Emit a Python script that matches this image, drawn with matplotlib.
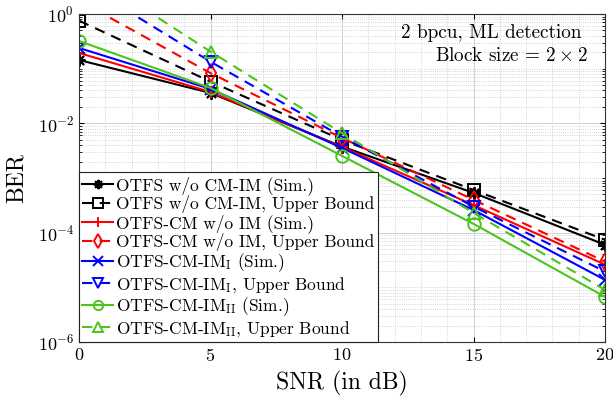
import numpy as np
import matplotlib
matplotlib.use('Agg')
import matplotlib.pyplot as plt
from matplotlib.ticker import MultipleLocator, LogLocator, NullFormatter

plt.rcParams['font.family'] = 'serif'
plt.rcParams['font.serif'] = ['cmr10']
plt.rcParams['mathtext.fontset'] = 'cm'
plt.rcParams['axes.formatter.use_mathtext'] = True

# SNR points (dB)
snr = [0, 5, 10, 15, 20]

# BER values
ber_otfs_sim = [0.144, 0.036, 3.75e-3, 5.35e-4, 6.0e-5]
ber_otfs_ub = [0.755, 0.058, 4.97e-3, 6.05e-4, 7.4e-5]
ber_cm_sim = [0.194, 0.0375, 3.7e-3, 3.2e-4, 2.6e-5]
ber_cm_ub = [1.75, 0.083, 5.4e-3, 4.0e-4, 2.96e-5]
ber_im1_sim = [0.239, 0.0426, 3.55e-3, 2.6e-4, 1.37e-5]
ber_im1_ub = [4.0, 0.134, 5.7e-3, 3.0e-4, 1.95e-5]
ber_im2_sim = [0.321, 0.0444, 2.54e-3, 1.45e-4, 6.7e-6]
ber_im2_ub = [7.3, 0.205, 6.6e-3, 2.3e-4, 9.0e-6]

labels = [
    'OTFS w/o CM-IM (Sim.)',
    'OTFS w/o CM-IM, Upper Bound',
    'OTFS-CM w/o IM (Sim.)',
    'OTFS-CM w/o IM, Upper Bound',
    r'OTFS-CM-IM$_{\rm I}$ (Sim.)',
    r'OTFS-CM-IM$_{\rm I}$, Upper Bound',
    r'OTFS-CM-IM$_{\rm II}$ (Sim.)',
    r'OTFS-CM-IM$_{\rm II}$, Upper Bound',
]

green = '#4dc41e'
series = [
    (ber_otfs_sim, 'k', '-', (8, 2, 0)),
    (ber_otfs_ub, 'k', '--', 's'),
    (ber_cm_sim, 'r', '-', '+'),
    (ber_cm_ub, 'r', '--', 'd'),
    (ber_im1_sim, 'b', '-', 'x'),
    (ber_im1_ub, 'b', '--', 'v'),
    (ber_im2_sim, green, '-', 'o'),
    (ber_im2_ub, green, '--', '^'),
]

fig = plt.figure(figsize=(6.13, 3.98), dpi=100)
# axes box: x 79..605 px, y 14..342 px
ax = fig.add_axes([79/613, 56/398, 526/613, 328/398])

for (vals, c, ls, m), lab in zip(series, labels):
    ax.semilogy(snr, vals, color=c, linestyle=ls, marker=m, markersize=9,
                markerfacecolor='none', markeredgewidth=1.4, linewidth=1.5,
                label=lab, dashes=(5, 3.5) if ls == '--' else (None, None))

ax.set_xlim(0, 20)
ax.set_ylim(1e-6, 1)
ax.set_xticks([0, 5, 10, 15, 20])
ax.xaxis.set_minor_locator(MultipleLocator(1))
ax.set_yticks([1e-6, 1e-4, 1e-2, 1])
ax.yaxis.set_minor_locator(LogLocator(base=10, subs=np.arange(1, 10), numticks=20))
ax.yaxis.set_minor_formatter(NullFormatter())
ax.grid(True, which='major', color='#d0d0d0', linewidth=0.7)
ax.grid(True, which='minor', color='#c8c8c8', linestyle=':', linewidth=0.6)
ax.tick_params(which='both', direction='in', top=True, right=True, labelsize=13)
ax.tick_params(axis='x', which='minor', length=0)
for s in ax.spines.values():
    s.set_color('#333333')

ax.set_xlabel('SNR (in dB)', fontsize=17, labelpad=5)
ax.set_ylabel('BER', fontsize=17, labelpad=7)

ax.text(0.956, 0.942, '2 bpcu, ML detection', transform=ax.transAxes,
        ha='right', va='center', fontsize=13.8)
ax.text(0.968, 0.872, r'Block size = $2\times 2$', transform=ax.transAxes,
        ha='right', va='center', fontsize=13.8)

leg = ax.legend(loc='lower left', bbox_to_anchor=(0.0, 0.0), borderaxespad=0,
                fontsize=12.5, fancybox=False, edgecolor='#222222', framealpha=1,
                handlelength=1.75, handletextpad=0.2, labelspacing=0.03,
                borderpad=0.2, markerscale=0.75)
leg.get_frame().set_linewidth(0.8)

fig.savefig('out.png', dpi=100)
